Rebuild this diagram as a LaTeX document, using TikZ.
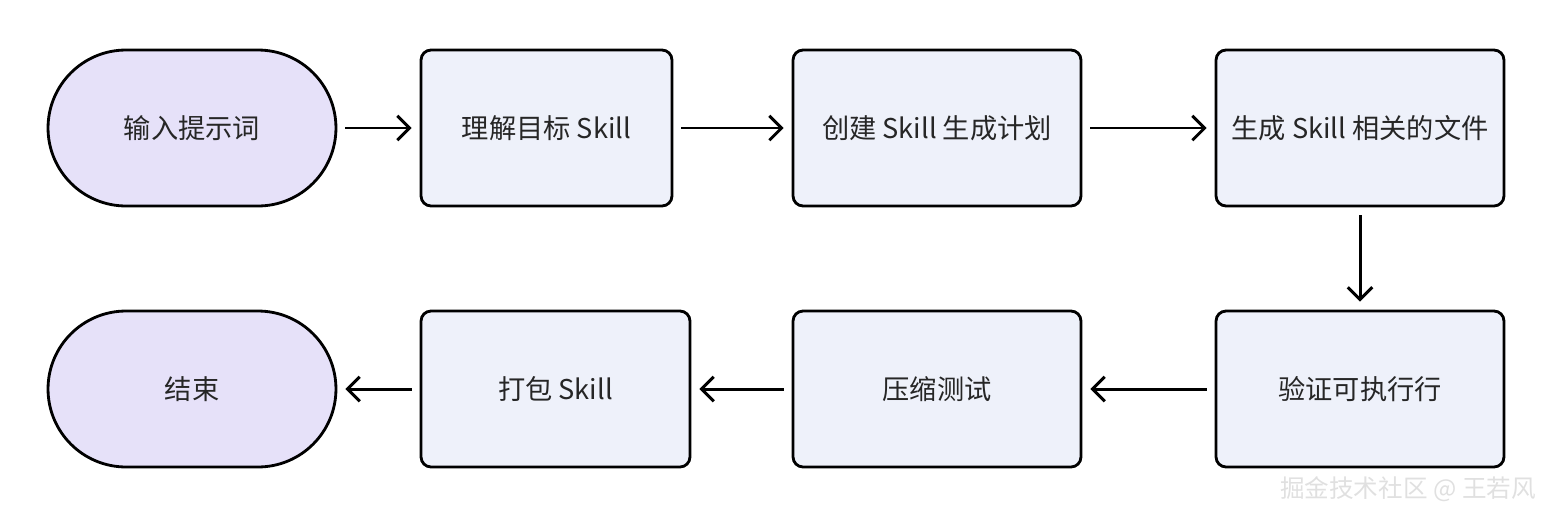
\documentclass[tikz,border=0pt]{standalone}
\usepackage{fontspec}
\setmainfont{Noto Sans CJK SC}
\usetikzlibrary{arrows.meta}
\definecolor{lav}{HTML}{E6E1F9}
\definecolor{boxf}{HTML}{EEF1FA}
\tikzset{
  base/.style={draw=black,line width=1.6pt,minimum height=3.12cm,font=\fontsize{15.5}{18}\selectfont,text=black!85},
  term/.style={base,fill=lav,rounded corners=1.56cm,minimum width=5.76cm},
  proc/.style={base,fill=boxf,rounded corners=0.2cm,minimum width=5.76cm},
  arr/.style={-{Straight Barb[length=7pt,width=14pt]},line width=1.7pt}
}
\begin{document}
\begin{tikzpicture}[x=0.02cm,y=-0.02cm]
\useasboundingbox (0,0) rectangle (1556,518);
\node[term] (a) at (192,128) {输入提示词};
\node[proc,minimum width=5.02cm] (b) at (546.5,128) {理解目标 Skill};
\node[proc] (c) at (937,128) {创建 Skill 生成计划};
\node[proc] (d) at (1360,128) {生成 Skill 相关的文件};
\node[proc] (e) at (1360,389) {验证可执行行};
\node[proc] (f) at (937,389) {压缩测试};
\node[proc,minimum width=5.38cm] (g) at (555.5,389) {打包 Skill};
\node[term] (h) at (192,389) {结束};
\draw[arr] ([xshift=4.5pt]a.east) -- ([xshift=-4.5pt]b.west);
\draw[arr] ([xshift=4.5pt]b.east) -- ([xshift=-4.5pt]c.west);
\draw[arr] ([xshift=4.5pt]c.east) -- ([xshift=-4.5pt]d.west);
\draw[arr] ([yshift=-4.5pt]d.south) -- ([yshift=4.5pt]e.north);
\draw[arr] ([xshift=-4.5pt]e.west) -- ([xshift=4.5pt]f.east);
\draw[arr] ([xshift=-4.5pt]f.west) -- ([xshift=4.5pt]g.east);
\draw[arr] ([xshift=-4.5pt]g.west) -- ([xshift=4.5pt]h.east);
\node[text=black!12,font=\fontsize{14}{16}\selectfont,anchor=east] (w) at (1542,489) {掘金技术社区 @ 王若风};
\end{tikzpicture}
\end{document}
